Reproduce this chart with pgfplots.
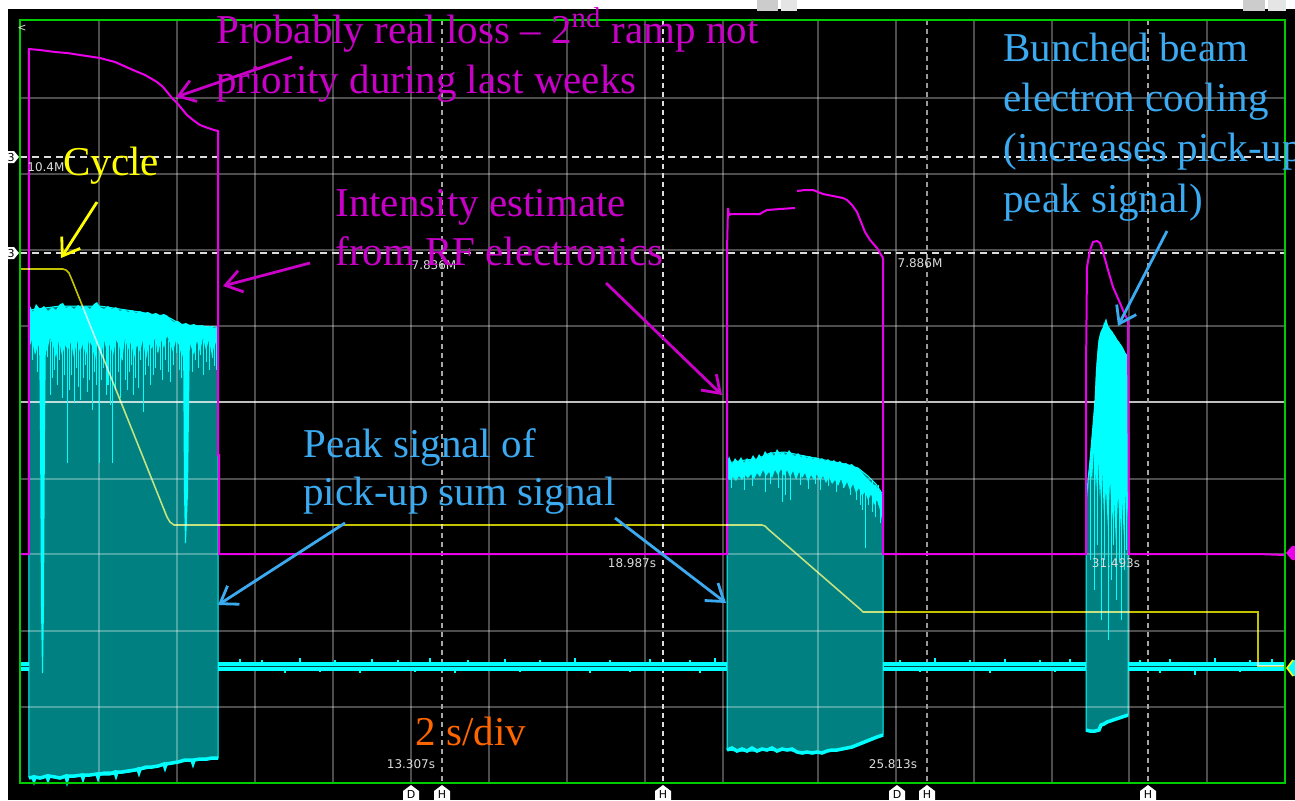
\documentclass[border=0pt]{standalone}
\usepackage{pgfplots}
\pgfplotsset{compat=1.18}
\usepackage{fontspec}
\setmainfont{Liberation Serif}
\newfontfamily\dejavu{DejaVu Sans}
\usetikzlibrary{arrows.meta}
\definecolor{tealf}{RGB}{0,128,128}
\definecolor{cy}{RGB}{0,255,255}
\definecolor{mag}{RGB}{235,0,235}
\definecolor{magt}{RGB}{200,0,200}
\definecolor{bluet}{RGB}{60,170,240}
\definecolor{ytr}{RGB}{195,195,0}
\definecolor{yt}{RGB}{255,255,0}
\definecolor{oran}{RGB}{255,102,0}
\definecolor{bord}{RGB}{0,205,0}
\definecolor{lab}{RGB}{220,220,220}
\definecolor{midb}{RGB}{0,70,70}
\newcommand\annot{\fontsize{20.5pt}{24.5pt}\selectfont}
\newcommand\lbl{\dejavu\fontsize{6pt}{7pt}\selectfont}
\newcommand\tg{\dejavu\fontsize{5.5pt}{6pt}\selectfont}
\begin{document}
\begin{tikzpicture}
\begin{axis}[width=632.5pt,height=381.5pt,scale only axis,
  xmin=20,xmax=1285,ymin=20,ymax=783,y dir=reverse,hide axis,clip=false]
% background
\fill[white] (axis cs:0,0) rectangle (axis cs:1295,800);
\fill[black] (axis cs:8,9) rectangle (axis cs:1295,800);
\coordinate (BL) at (axis cs:0,800);
\coordinate (TR) at (axis cs:1295,0);
% top icons
\fill[gray!40] (axis cs:757,0) rectangle (axis cs:778,11);
\fill[gray!20] (axis cs:781,0) rectangle (axis cs:797,11);
\fill[gray!40] (axis cs:1243,0) rectangle (axis cs:1265,11);
\fill[gray!20] (axis cs:1268,0) rectangle (axis cs:1286,11);
% teal fills
\addplot[fill=tealf,draw=cy,line width=0.5pt] coordinates {(29,310)(60,306)(100,306)(140,312)(170,318)(182,325)(218,327)(218,758)(210,758)(200,760)(190,761)(180,762)(170,764)(160,766)(150,768)(140,770)(130,772)(120,773)(110,775)(100,775)(90,775)(80,776)(70,777)(60,777)(50,777)(40,777)(29,777)} -- cycle;
\addplot[fill=tealf,draw=cy,line width=0.5pt] coordinates {(727,463)(745,460)(757,459)(770,453)(785,452)(800,455)(815,458)(830,461)(845,464)(858,468)(868,476)(876,484)(883,495)(883,735)(877,737)(867,741)(857,745)(847,748)(837,750)(827,751)(817,752)(807,752)(797,752)(787,750)(777,751)(767,750)(757,751)(747,751)(737,751)(727,750)} -- cycle;
\addplot[fill=tealf,draw=cy,line width=0.5pt] coordinates {(1086,730)(1086,505)(1088,480)(1090,460)(1093,425)(1095,400)(1097,362)(1099,340)(1101,332)(1103,328)(1106,320)(1108,327)(1112,332)(1117,340)(1122,347)(1125,353)(1128,357)(1128,715)(1125,716)(1120,718)(1115,720)(1110,722)(1104,724)(1101,726)(1099,730)(1094,731)} -- cycle;
% grid
\pgfplotsinvokeforeach{99,177,255,333,411,489,567,645,723,818,896,974,1052,1129,1207}{
  \draw[white,opacity=0.3,line width=0.6pt] (axis cs:#1,20) -- (axis cs:#1,783);}
\pgfplotsinvokeforeach{98,174,250,326,479,554,631,707}{
  \draw[white,opacity=0.3,line width=0.6pt] (axis cs:20,#1) -- (axis cs:1285,#1);}
\draw[white,opacity=0.75,line width=0.6pt] (axis cs:20,402) -- (axis cs:1285,402);
% cursors
\draw[lab,line width=0.7pt,dash pattern=on 3.5pt off 2.5pt] (axis cs:20,157) -- (axis cs:1285,157);
\draw[lab,line width=0.7pt,dash pattern=on 3.5pt off 2.5pt] (axis cs:20,253) -- (axis cs:1285,253);
\draw[gray!70,line width=0.8pt,dash pattern=on 2.5pt off 2pt] (axis cs:442,20) -- (axis cs:442,783);
\draw[lab,line width=0.8pt,dash pattern=on 2.5pt off 2pt] (axis cs:663,20) -- (axis cs:663,783);
\draw[gray!80,line width=0.8pt,dash pattern=on 2.5pt off 2pt] (axis cs:927,20) -- (axis cs:927,783);
\draw[gray!70,line width=0.8pt,dash pattern=on 2.5pt off 2pt] (axis cs:1148,20) -- (axis cs:1148,783);
% pulse 1 bright
\addplot[fill=cy,draw=none] coordinates {(29,292)(30,306)(33,312)(36,304)(40,309)(44,306)(48,311)(52,307)(56,310)(60,304)(63,303)(66,308)(70,306)(74,309)(78,305)(82,308)(86,306)(90,309)(94,304)(97,302)(100,307)(104,309)(108,306)(112,309)(116,307)(120,311)(124,309)(128,312)(132,310)(136,313)(140,311)(144,313)(148,312)(152,314)(156,313)(160,315)(164,314)(168,316)(171,320)(174,322)(178,321)(182,324)(186,323)(190,325)(194,324)(198,326)(202,325)(206,327)(210,326)(214,328)(218,327)(218,352)(215,342)(212,356)(209,340)(206,350)(203,338)(200,352)(197,341)(194,355)(190,344)(186,340)(182,358)(179,345)(176,340)(173,352)(170,343)(167,336)(164,348)(161,340)(158,354)(155,338)(152,349)(149,344)(146,360)(143,340)(140,352)(137,345)(134,358)(131,342)(128,350)(125,338)(122,362)(119,345)(116,340)(113,356)(110,344)(107,352)(104,340)(101,357)(98,342)(95,360)(92,346)(89,340)(86,356)(83,344)(80,352)(77,340)(74,358)(71,342)(68,350)(65,345)(62,356)(59,340)(56,358)(53,345)(50,338)(47,352)(44,343)(41,350)(38,345)(35,355)(32,340)(29,348)} -- cycle;
\addplot[fill=cy,draw=none] coordinates {(39,330)(46,330)(45,430)(44,607)(43,673)(42,673)(41,607)(40,430)} -- cycle;
\addplot[fill=cy,draw=none] coordinates {(183,330)(190,330)(188,493)(186,543)(185,543)(184,493)} -- cycle;
\addplot[cy,line width=0.5pt,unbounded coords=jump] coordinates {(33,340)(33,360)(33,nan)(36,340)(36,353)(36,nan)(38,340)(38,372)(38,nan)(48,340)(48,357)(48,nan)(51,340)(51,395)(51,nan)(53,340)(53,378)(53,nan)(55,340)(55,370)(55,nan)(58,340)(58,385)(58,nan)(60,340)(60,360)(60,nan)(63,340)(63,398)(63,nan)(65,340)(65,375)(65,nan)(68,340)(68,463)(68,nan)(70,340)(70,390)(70,nan)(72,340)(72,375)(72,nan)(75,340)(75,402)(75,nan)(77,340)(77,368)(77,nan)(79,340)(79,387)(79,nan)(81,340)(81,400)(81,nan)(84,340)(84,378)(84,nan)(86,340)(86,365)(86,nan)(88,340)(88,392)(88,nan)(90,340)(90,380)(90,nan)(93,340)(93,410)(93,nan)(95,340)(95,372)(95,nan)(97,340)(97,385)(97,nan)(100,340)(100,463)(100,nan)(102,340)(102,380)(102,nan)(104,340)(104,368)(104,nan)(106,340)(106,395)(106,nan)(108,340)(108,385)(108,nan)(110,340)(110,405)(110,nan)(112,340)(112,463)(112,nan)(115,340)(115,390)(115,nan)(118,340)(118,372)(118,nan)(120,340)(120,398)(120,nan)(122,340)(122,360)(122,nan)(125,340)(125,380)(125,nan)(127,340)(127,390)(127,nan)(129,340)(129,372)(129,nan)(131,340)(131,365)(131,nan)(133,340)(133,395)(133,nan)(135,340)(135,378)(135,nan)(138,340)(138,388)(138,nan)(140,340)(140,360)(140,nan)(143,340)(143,412)(143,nan)(145,340)(145,375)(145,nan)(148,340)(148,366)(148,nan)(150,340)(150,385)(150,nan)(153,340)(153,375)(153,nan)(155,340)(155,368)(155,nan)(157,340)(157,352)(157,nan)(160,340)(160,370)(160,nan)(162,340)(162,380)(162,nan)(165,340)(165,360)(165,nan)(168,340)(168,372)(168,nan)(170,340)(170,382)(170,nan)(173,340)(173,365)(173,nan)(176,340)(176,353)(176,nan)(179,340)(179,370)(179,nan)(181,340)(181,378)(181,nan)(192,340)(192,372)(192,nan)(195,340)(195,360)(195,nan)(198,340)(198,368)(198,nan)(200,340)(200,355)(200,nan)(203,340)(203,375)(203,nan)(206,340)(206,362)(206,nan)(209,340)(209,370)(209,nan)(212,340)(212,358)(212,nan)(214,340)(214,366)(214,nan)(216,340)(216,370)};
\addplot[cy,line width=1.75pt] coordinates {(29,778)(33,777)(34,780)(35,777)(40,778)(47,776)(48,779)(49,776)(55,777)(60,778)(66,776)(67,780)(68,776)(75,776)(82,775)(83,778)(84,775)(90,775)(97,774)(98,777)(99,774)(105,773)(112,773)(115,772)(116,775)(117,772)(122,772)(128,771)(135,770)(138,769)(139,772)(140,769)(146,767)(152,767)(158,766)(164,764)(165,767)(166,764)(172,763)(178,762)(185,760)(192,760)(193,763)(194,760)(200,759)(207,759)(212,758)(218,758)};
% pulse 2 bright
\addplot[fill=cy,draw=none] coordinates {(727,463)(729,456)(732,464)(735,458)(738,462)(741,457)(744,463)(747,458)(750,461)(753,455)(756,460)(759,454)(762,458)(765,451)(768,455)(771,452)(774,456)(777,449)(780,454)(783,452)(786,455)(789,450)(792,454)(795,456)(798,453)(801,457)(804,455)(807,458)(810,456)(813,459)(816,457)(819,460)(822,458)(825,461)(828,459)(831,462)(834,460)(837,463)(840,461)(843,464)(846,463)(849,465)(852,464)(855,467)(858,468)(861,471)(864,475)(867,478)(870,481)(873,484)(876,486)(879,490)(881,493)(883,497)(883,525)(880,510)(877,500)(874,505)(871,494)(868,500)(865,492)(862,496)(859,488)(856,493)(853,484)(850,490)(847,482)(844,488)(841,479)(838,486)(835,480)(832,484)(829,477)(826,483)(823,476)(820,481)(817,474)(814,480)(811,475)(808,482)(805,473)(802,478)(799,472)(796,480)(793,471)(790,477)(787,470)(784,476)(781,469)(778,475)(775,470)(772,478)(769,472)(766,476)(763,470)(760,477)(757,473)(754,479)(751,474)(748,478)(745,475)(742,480)(739,476)(736,481)(733,477)(730,480)(727,478)} -- cycle;
\addplot[cy,line width=0.5pt,unbounded coords=jump] coordinates {(731,470)(731,488)(731,nan)(744,470)(744,490)(744,nan)(752,470)(752,486)(752,nan)(765,470)(765,492)(765,nan)(770,470)(770,484)(770,nan)(778,470)(778,488)(778,nan)(782,470)(782,502)(782,nan)(785,470)(785,495)(785,nan)(790,470)(790,500)(790,nan)(800,470)(800,485)(800,nan)(808,470)(808,489)(808,nan)(815,470)(815,484)(815,nan)(820,470)(820,490)(820,nan)(828,470)(828,486)(828,nan)(836,470)(836,492)(836,nan)(843,470)(843,488)(843,nan)(850,470)(850,495)(850,nan)(856,470)(856,500)(856,nan)(860,475)(860,505)(860,nan)(862,475)(862,510)(862,nan)(865,480)(865,548)(865,nan)(868,480)(868,505)(868,nan)(872,480)(872,512)(872,nan)(875,485)(875,517)(875,nan)(878,485)(878,505)(878,nan)(880,490)(880,523)};
\addplot[cy,line width=1.75pt] coordinates {(727,750)(732,748)(737,751)(742,749)(747,751)(752,748)(757,751)(762,749)(767,750)(772,748)(777,751)(782,749)(787,750)(792,749)(797,752)(802,753)(807,752)(812,753)(817,752)(822,753)(827,751)(832,750)(837,750)(842,749)(847,748)(852,747)(857,745)(862,743)(867,741)(872,739)(877,737)(883,735)};
% pulse 3 bright
\addplot[fill=cy,draw=none] coordinates {(1088,490)(1090,460)(1093,425)(1095,400)(1096,370)(1097,362)(1098,345)(1099,340)(1100,334)(1101,332)(1102,330)(1103,328)(1104,322)(1105,325)(1106,319)(1107,324)(1108,327)(1109,326)(1110,330)(1112,331)(1113,334)(1115,336)(1117,340)(1119,342)(1121,345)(1122,347)(1124,350)(1125,353)(1127,355)(1128,357)(1128,520)(1126,490)(1124,540)(1122,500)(1120,530)(1118,495)(1116,545)(1114,500)(1112,520)(1110,480)(1108,530)(1106,490)(1104,515)(1102,470)(1100,500)(1098,460)(1096,490)(1094,450)(1092,480)(1090,470)} -- cycle;
\addplot[cy,line width=0.5pt,unbounded coords=jump] coordinates {(1090,470)(1090,560)(1090,nan)(1094,450)(1094,590)(1094,nan)(1097,450)(1097,545)(1097,nan)(1101,470)(1101,620)(1101,nan)(1104,480)(1104,560)(1104,nan)(1108,480)(1108,640)(1108,nan)(1111,480)(1111,580)(1111,nan)(1113,480)(1113,545)(1113,nan)(1116,480)(1116,600)(1116,nan)(1119,480)(1119,560)(1119,nan)(1121,480)(1121,620)(1121,nan)(1124,480)(1124,570)(1124,nan)(1126,480)(1126,550)};
\addplot[cy,line width=1.75pt] coordinates {(1086,730)(1090,731)(1095,731)(1099,730)(1101,725)(1104,724)(1107,722)(1110,721)(1113,720)(1116,719)(1119,718)(1122,717)(1125,716)(1128,715)};
% baseline band
\addplot[cy,line width=4.5pt,unbounded coords=jump] coordinates {(20,666)(29,666)(29,nan)(218,666)(727,666)(727,nan)(883,666)(1086,666)(1086,nan)(1128,666)(1285,666)};
\addplot[midb,line width=0.7pt,unbounded coords=jump] coordinates {(20,666.5)(29,666.5)(29,nan)(219,666.5)(726,666.5)(726,nan)(884,666.5)(1085,666.5)(1085,nan)(1129,666.5)(1285,666.5)};
\addplot[cy,line width=0.6pt,unbounded coords=jump] coordinates {(240,662)(240,659)(240,nan)(262,662)(262,660)(262,nan)(300,662)(300,658)(300,nan)(335,662)(335,660)(335,nan)(372,662)(372,659)(372,nan)(398,662)(398,660)(398,nan)(430,662)(430,658)(430,nan)(468,662)(468,660)(468,nan)(505,662)(505,659)(505,nan)(540,662)(540,660)(540,nan)(575,662)(575,658)(575,nan)(610,662)(610,660)(610,nan)(650,662)(650,659)(650,nan)(690,662)(690,660)(690,nan)(715,662)(715,658)(715,nan)(900,662)(900,660)(900,nan)(935,662)(935,658)(935,nan)(970,662)(970,660)(970,nan)(1005,662)(1005,659)(1005,nan)(1040,662)(1040,660)(1040,nan)(1070,662)(1070,659)(1070,nan)(1140,662)(1140,660)(1140,nan)(1170,662)(1170,659)(1170,nan)(1215,662)(1215,658)(1215,nan)(1250,662)(1250,660)(1250,nan)(1272,662)(1272,659)(1272,nan)(285,670)(285,673)(285,nan)(320,670)(320,672)(320,nan)(360,670)(360,673)(360,nan)(415,670)(415,672)(415,nan)(455,670)(455,673)(455,nan)(520,670)(520,672)(520,nan)(590,670)(590,673)(590,nan)(630,670)(630,672)(630,nan)(700,670)(700,673)(700,nan)(920,670)(920,672)(920,nan)(990,670)(990,673)(990,nan)(1055,670)(1055,672)(1055,nan)(1160,670)(1160,673)(1160,nan)(1195,670)(1195,675)(1195,nan)(1240,670)(1240,672)};
% magenta trace
\addplot[mag,line width=1pt,unbounded coords=jump] coordinates {(20,554)(29,554)(29,49)(40,50)(55,52)(67,53)(80,55)(100,58)(115,62)(133,70)(145,75)(157,82)(163,87)(168,93)(172,98)(177,103)(182,109)(187,115)(193,120)(200,125)(208,128)(214,130)(218,131)(218,455)(219,455)(219,554)(727,554)(727,250)(728,208)(729,215)(731,214)(745,214)(760,214)(763,212)(767,210)(780,209)(795,208)(795,nan)(797,191)(805,190)(813,190)(818,192)(823,194)(833,196)(843,198)(847,200)(852,205)(857,212)(861,222)(865,232)(870,240)(877,248)(883,258)(883,554)(1086,554)(1086,370)(1087,267)(1090,250)(1093,242)(1097,241)(1100,243)(1103,252)(1108,270)(1113,287)(1120,303)(1125,315)(1128,320)(1129,554)(1258,554)(1285,555)};
% yellow trace
\addplot[ytr,line width=0.8pt,blend mode=screen] coordinates {(20,269)(63,269)(66,270)(69,273)(72,280)(167,517)(170,522)(174,525)(762,525)(765,526)(768,529)(860,609)(863,612)(1258,612)(1258,666)(1285,666)};
% border
\draw[bord,line width=1pt] (axis cs:20,20) rectangle (axis cs:1285,783);
% right markers
\fill[mag] (axis cs:1286,553) -- (axis cs:1292,546) -- (axis cs:1295,546) -- (axis cs:1295,560) -- (axis cs:1292,560) -- cycle;
\fill[cy] (axis cs:1287,668) -- (axis cs:1293,660) -- (axis cs:1295,660) -- (axis cs:1295,676) -- (axis cs:1293,676) -- cycle;
\draw[yt,line width=0.8pt] (axis cs:1293,660) -- (axis cs:1287,668) -- (axis cs:1293,676);
% left tags
\fill[white] (axis cs:8,151) -- (axis cs:14,151) -- (axis cs:19,157) -- (axis cs:14,163) -- (axis cs:8,163) -- cycle;
\node[font=\tg,text=black,inner sep=0pt] at (axis cs:11,157) {3};
\fill[white] (axis cs:8,247) -- (axis cs:14,247) -- (axis cs:19,253) -- (axis cs:14,259) -- (axis cs:8,259) -- cycle;
\node[font=\tg,text=black,inner sep=0pt] at (axis cs:11,253) {3};
\node[font=\tg,text=lab,inner sep=0pt] at (axis cs:22,28) {<};
% bottom tags
\fill[white] (axis cs:403,800) -- (axis cs:403,791) -- (axis cs:411,785) -- (axis cs:419,791) -- (axis cs:419,800) -- cycle;
\node[font=\tg,text=black,inner sep=0pt] at (axis cs:411,794) {D};
\fill[white] (axis cs:434,800) -- (axis cs:434,791) -- (axis cs:442,785) -- (axis cs:450,791) -- (axis cs:450,800) -- cycle;
\node[font=\tg,text=black,inner sep=0pt] at (axis cs:442,794) {H};
\fill[white] (axis cs:655,800) -- (axis cs:655,791) -- (axis cs:663,785) -- (axis cs:671,791) -- (axis cs:671,800) -- cycle;
\node[font=\tg,text=black,inner sep=0pt] at (axis cs:663,794) {H};
\fill[white] (axis cs:889,800) -- (axis cs:889,791) -- (axis cs:897,785) -- (axis cs:905,791) -- (axis cs:905,800) -- cycle;
\node[font=\tg,text=black,inner sep=0pt] at (axis cs:897,794) {D};
\fill[white] (axis cs:919,800) -- (axis cs:919,791) -- (axis cs:927,785) -- (axis cs:935,791) -- (axis cs:935,800) -- cycle;
\node[font=\tg,text=black,inner sep=0pt] at (axis cs:927,794) {H};
\fill[white] (axis cs:1140,800) -- (axis cs:1140,791) -- (axis cs:1148,785) -- (axis cs:1156,791) -- (axis cs:1156,800) -- cycle;
\node[font=\tg,text=black,inner sep=0pt] at (axis cs:1148,794) {H};
% small labels
\node[font=\lbl,text=lab,anchor=west,inner sep=0pt] at (axis cs:27,167) {10.4M};
\node[font=\lbl,text=lab,inner sep=0pt] at (axis cs:434,265) {7.836M};
\node[font=\lbl,text=lab,inner sep=0pt] at (axis cs:920,263) {7.886M};
\node[font=\lbl,text=lab,inner sep=0pt] at (axis cs:632,563) {18.987s};
\node[font=\lbl,text=lab,inner sep=0pt] at (axis cs:1116,563) {31.493s};
\node[font=\lbl,text=lab,inner sep=0pt] at (axis cs:411,764) {13.307s};
\node[font=\lbl,text=lab,inner sep=0pt] at (axis cs:893,764) {25.813s};
% arrows
\draw[magt,line width=1.4pt,-{Straight Barb[length=8pt,width=11pt]}] (axis cs:292,57) -- (axis cs:176,97);
\draw[magt,line width=1.4pt,-{Straight Barb[length=8pt,width=11pt]}] (axis cs:310,263) -- (axis cs:223,286);
\draw[magt,line width=1.4pt,-{Straight Barb[length=8pt,width=11pt]}] (axis cs:606,283) -- (axis cs:722,395);
\draw[yt,line width=1.4pt,-{Straight Barb[length=8pt,width=11pt]}] (axis cs:97,202) -- (axis cs:61,258);
\draw[bluet,line width=1.4pt,-{Straight Barb[length=8pt,width=11pt]}] (axis cs:345,523) -- (axis cs:218,605);
\draw[bluet,line width=1.4pt,-{Straight Barb[length=8pt,width=11pt]}] (axis cs:615,518) -- (axis cs:726,603);
\draw[bluet,line width=1.4pt,-{Straight Barb[length=8pt,width=11pt]}] (axis cs:1167,231) -- (axis cs:1118,326);
% annotation texts
\node[anchor=base west,inner sep=0pt,font=\annot,text=magt] at (axis cs:216,43) {Probably real loss -- 2\textsuperscript{nd} ramp not};
\node[anchor=base west,inner sep=0pt,font=\annot,text=magt] at (axis cs:216,93) {priority during last weeks};
\node[anchor=base west,inner sep=0pt,font=\annot,text=yt] at (axis cs:63,175) {Cycle};
\node[anchor=base west,inner sep=0pt,font=\annot,text=magt] at (axis cs:335,216) {Intensity estimate};
\node[anchor=base west,inner sep=0pt,font=\annot,text=magt] at (axis cs:335,265) {from RF electronics};
\node[anchor=base west,inner sep=0pt,font=\annot,text=bluet] at (axis cs:303,457) {Peak signal of};
\node[anchor=base west,inner sep=0pt,font=\annot,text=bluet] at (axis cs:303,505) {pick-up sum signal};
\node[anchor=base west,inner sep=0pt,font=\annot,text=bluet] at (axis cs:1003,61) {Bunched beam};
\node[anchor=base west,inner sep=0pt,font=\annot,text=bluet] at (axis cs:1003,111) {electron cooling};
\node[anchor=base west,inner sep=0pt,font=\annot,text=bluet] at (axis cs:1003,161) {(increases pick-up};
\node[anchor=base west,inner sep=0pt,font=\annot,text=bluet] at (axis cs:1003,212) {peak signal)};
\node[anchor=base west,inner sep=0pt,font=\annot,text=oran] at (axis cs:415,745) {2 s/div};
\end{axis}
\pgfresetboundingbox
\path[use as bounding box] (BL) rectangle (TR);
\end{tikzpicture}
\end{document}
